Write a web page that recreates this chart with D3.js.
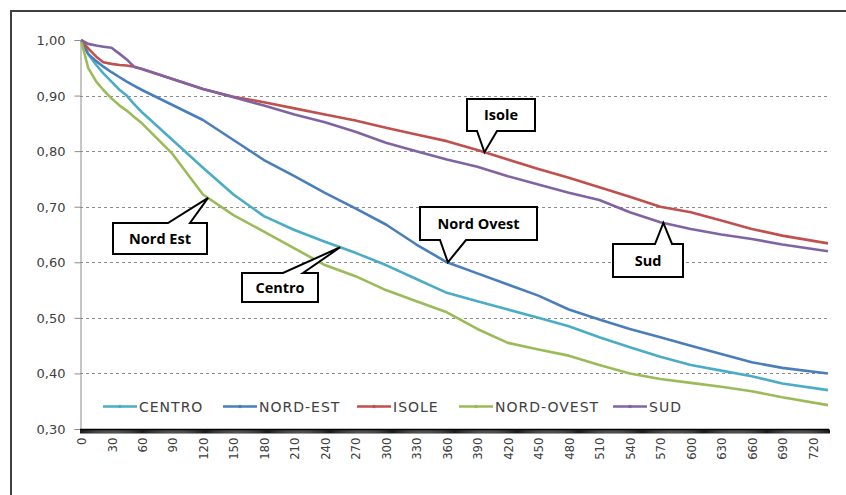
<!DOCTYPE html>
<html>
<head>
<meta charset="utf-8">
<script src="https://cdn.jsdelivr.net/npm/d3@7"></script>
<style>
  body { margin: 0; background: #fff; }
  svg { display: block; }
  .tick_text { font-family: "DejaVu Sans", sans-serif; font-size: 13px; fill: #404040; }
  .xtick_text { font-family: "DejaVu Sans Condensed", "DejaVu Sans", sans-serif; font-size: 13px; fill: #404040; }
  .legend_text { font-family: "DejaVu Sans", sans-serif; font-size: 14px; fill: #404040; letter-spacing: 1px; }
  .callout_text { font-family: "Open Sans", sans-serif; font-weight: 700; font-size: 14.5px; fill: #000; }
</style>
</head>
<body>
<svg id="chart" width="846" height="495"></svg>
<script>

// DATA
// ========================================================================
var series_names = ["CENTRO", "NORD-EST", "ISOLE", "NORD-OVEST", "SUD"];

var days = [0, 7, 15, 22, 30, 38, 45, 52, 60, 90, 120, 150, 180, 210, 240, 270,
            300, 330, 360, 390, 420, 450, 480, 510, 540, 570, 600, 630, 660, 690, 735];

var centro     = [1.00, 0.975, 0.955, 0.940, 0.925, 0.910, 0.900, 0.885, 0.870, 0.820, 0.770, 0.722,
                  0.683, 0.658, 0.637, 0.617, 0.595, 0.570, 0.545, 0.530, 0.515, 0.500, 0.485, 0.465,
                  0.447, 0.430, 0.415, 0.405, 0.395, 0.382, 0.370];
var nord_est   = [1.00, 0.975, 0.962, 0.952, 0.942, 0.933, 0.925, 0.918, 0.910, 0.883, 0.856, 0.820,
                  0.784, 0.755, 0.725, 0.697, 0.668, 0.632, 0.600, 0.580, 0.560, 0.540, 0.515, 0.497,
                  0.480, 0.465, 0.450, 0.435, 0.420, 0.410, 0.400];
var isole      = [1.00, 0.985, 0.970, 0.960, 0.957, 0.955, 0.954, 0.952, 0.948, 0.930, 0.912, 0.898,
                  0.888, 0.877, 0.866, 0.855, 0.842, 0.830, 0.818, 0.802, 0.785, 0.768, 0.752, 0.735,
                  0.718, 0.700, 0.690, 0.675, 0.660, 0.648, 0.634];
var nord_ovest = [1.00, 0.950, 0.925, 0.910, 0.895, 0.882, 0.873, 0.862, 0.850, 0.795, 0.722, 0.685,
                  0.655, 0.625, 0.595, 0.575, 0.550, 0.530, 0.510, 0.480, 0.455, 0.443, 0.432, 0.415,
                  0.400, 0.390, 0.383, 0.376, 0.368, 0.357, 0.343];
var sud        = [1.00, 0.993, 0.990, 0.988, 0.986, 0.975, 0.965, 0.952, 0.948, 0.930, 0.912, 0.897,
                  0.882, 0.866, 0.852, 0.835, 0.815, 0.800, 0.785, 0.772, 0.755, 0.740, 0.725, 0.712,
                  0.690, 0.672, 0.660, 0.650, 0.642, 0.632, 0.620];

var series_values = [centro, nord_est, isole, nord_ovest, sud];

var y_ticks = [0.30, 0.40, 0.50, 0.60, 0.70, 0.80, 0.90, 1.00];
var x_tick_labels = d3.range(0, 721, 30);
var last_day = 736;

var callout_texts = ["Isole", "Nord Ovest", "Sud", "Nord Est", "Centro"];
var callout_days = [397, 361, 573, 125, 255];
var callout_values = [0.798, 0.60, 0.671, 0.716, 0.627];
// ========================================================================

var colors = ["#4bacc6", "#4a7ebb", "#c0504d", "#9bbb59", "#8064a2"];

// callout box layout (pixels): box x, y, w, h and where the pointer leaves the box
var callout_boxes = [
  {x: 467, y: 99,  w: 68,  h: 32, b1: 477, b2: 497, side: "bottom"},
  {x: 420, y: 207, w: 117, h: 33, b1: 440, b2: 466, side: "bottom"},
  {x: 613, y: 244, w: 70,  h: 33, b1: 655, b2: 672, side: "top"},
  {x: 113, y: 223, w: 94,  h: 31, b1: 168, b2: 190, side: "top"},
  {x: 242, y: 273, w: 76,  h: 29, b1: 283, b2: 303, side: "top"}
];

var legend_x = [103, 223, 357, 459, 613];

var svg = d3.select("#chart");

var x = d3.scaleLinear().domain([-1, last_day]).range([80, 829]);
var y = d3.scaleLinear().domain([0.30, 1.00]).range([429, 40]);

// outer frame
svg.append("path")
    .attr("d", "M11,495 L11,11 L846,11")
    .attr("fill", "none")
    .attr("stroke", "#404040")
    .attr("stroke-width", 2);

// gridlines
svg.append("g").selectAll("line")
    .data(y_ticks.filter(function(d) { return d > 0.31 && d < 0.99; }))
    .enter().append("line")
      .attr("x1", 80).attr("x2", 829)
      .attr("y1", function(d) { return Math.round(y(d)) + 0.5; })
      .attr("y2", function(d) { return Math.round(y(d)) + 0.5; })
      .attr("stroke", "#8c8c8c")
      .attr("stroke-dasharray", "3,3");

// y axis
var y_axis = svg.append("g").attr("transform", "translate(80.5,0)")
    .call(d3.axisLeft(y).tickValues(y_ticks).tickSize(6).tickPadding(9)
            .tickFormat(function(d) { return d3.format(".2f")(d).replace(".", ","); }));
y_axis.select(".domain").attr("stroke", "#8c8c8c");
y_axis.selectAll("line").attr("stroke", "#8c8c8c");
y_axis.selectAll("text").attr("class", "tick_text").attr("dy", "0.35em");

// x axis: one tick per day, labels every 30 days
var x_axis = svg.append("g").attr("transform", "translate(0,429.5)");
x_axis.append("line")
    .attr("x1", 80).attr("x2", 829)
    .attr("stroke", "#000").attr("stroke-width", 1.5);
x_axis.selectAll(".day_tick")
    .data(d3.range(-1, last_day + 1))
    .enter().append("line")
      .attr("class", "day_tick")
      .attr("x1", function(d) { return x(d + 0.5); })
      .attr("x2", function(d) { return x(d + 0.5); })
      .attr("y1", 0).attr("y2", 4)
      .attr("stroke", "#000").attr("stroke-width", 0.9);
x_axis.selectAll(".xtick_text")
    .data(x_tick_labels)
    .enter().append("text")
      .attr("class", "xtick_text")
      .attr("text-anchor", "end")
      .attr("transform", function(d) { return "translate(" + (x(d) + 5) + ",8) rotate(-90)"; })
      .text(function(d) { return d; });

// lines
var line = d3.line()
    .x(function(d, i) { return x(days[i]); })
    .y(function(d) { return y(d); });

svg.append("g").selectAll("path")
    .data(series_values)
    .enter().append("path")
      .attr("d", line)
      .attr("fill", "none")
      .attr("stroke", function(d, i) { return colors[i]; })
      .attr("stroke-width", 2.6)
      .attr("stroke-linejoin", "round");

// legend
var legend = svg.append("g").selectAll("g")
    .data(series_names)
    .enter().append("g")
      .attr("transform", function(d, i) { return "translate(" + legend_x[i] + ",406.5)"; });
legend.append("line")
    .attr("x1", 0).attr("x2", 34)
    .attr("stroke", function(d, i) { return colors[i]; })
    .attr("stroke-width", 2.6);
legend.append("circle")
    .attr("cx", 17).attr("r", 1.8)
    .attr("fill", function(d, i) { return colors[i]; });
legend.append("text")
    .attr("class", "legend_text")
    .attr("x", 36).attr("dy", "0.36em")
    .text(function(d) { return d; });

// callouts
var callouts = svg.append("g").selectAll("g")
    .data(callout_texts)
    .enter().append("g");

callouts.append("path")
    .attr("d", function(d, i) {
      var b = callout_boxes[i];
      var tx = x(callout_days[i]), ty = y(callout_values[i]);
      var x0 = b.x, x1 = b.x + b.w, y0 = b.y, y1 = b.y + b.h;
      if (b.side == "bottom") {
        return "M" + x0 + "," + y0 + " L" + x1 + "," + y0 + " L" + x1 + "," + y1 +
               " L" + b.b2 + "," + y1 + " L" + tx + "," + ty + " L" + b.b1 + "," + y1 +
               " L" + x0 + "," + y1 + " Z";
      }
      return "M" + x0 + "," + y0 + " L" + b.b1 + "," + y0 + " L" + tx + "," + ty +
             " L" + b.b2 + "," + y0 + " L" + x1 + "," + y0 + " L" + x1 + "," + y1 +
             " L" + x0 + "," + y1 + " Z";
    })
    .attr("fill", "#fff")
    .attr("stroke", "#000")
    .attr("stroke-width", 2)
    .attr("stroke-linejoin", "miter");

callouts.append("text")
    .attr("class", "callout_text")
    .attr("text-anchor", "middle")
    .attr("x", function(d, i) { return callout_boxes[i].x + callout_boxes[i].w / 2; })
    .attr("y", function(d, i) { return callout_boxes[i].y + callout_boxes[i].h / 2; })
    .attr("dy", "0.35em")
    .text(function(d) { return d; });

</script>
</body>
</html>
